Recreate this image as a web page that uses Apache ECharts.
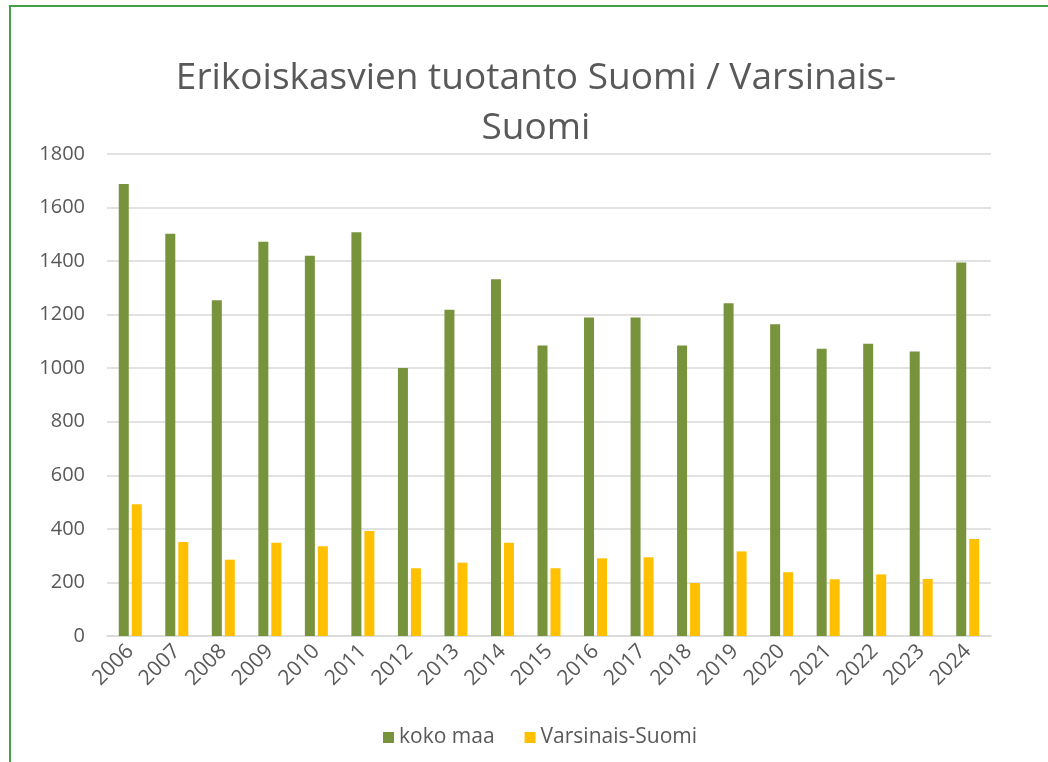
<!DOCTYPE html>
<html>
<head>
<meta charset="utf-8">
<script src="https://cdn.jsdelivr.net/npm/echarts@6/dist/echarts.min.js"></script>
<style>
  html, body { margin: 0; padding: 0; background: #fff; }
  #frame {
    position: absolute; left: 9px; top: 5px; right: 0; bottom: 0;
    border-left: 2px solid #43a047; border-top: 2px solid #43a047;
  }
  #chart { position: absolute; left: 0; top: 0; width: 1048px; height: 762px; }
</style>
</head>
<body>
<div id="frame"></div>
<div id="chart"></div>
<script>
// vuodet ja arvot luettu kuvasta
const years = ["2006", "2007", "2008", "2009", "2010", "2011", "2012", "2013", "2014", "2015",
  "2016", "2017", "2018", "2019", "2020", "2021", "2022", "2023", "2024"];
const kokoMaa = [1688, 1502, 1254, 1472, 1420, 1508, 1001, 1218, 1332, 1085,
  1189, 1189, 1085, 1243, 1164, 1073, 1091, 1062, 1395];
const varsinaisSuomi = [492, 351, 285, 348, 335, 392, 253, 274, 348, 253,
  290, 294, 198, 316, 238, 212, 230, 213, 362];

const font = '"Open Sans", "Noto Sans", sans-serif';
const txt = "#595959";

let myChart = echarts.init(document.getElementById("chart"));
myChart.setOption({
  animation: false,
  textStyle: { fontFamily: font },
  title: {
    text: "Erikoiskasvien tuotanto Suomi / Varsinais-\nSuomi",
    left: 531,
    textAlign: "center",
    top: 48,
    textStyle: {
      fontFamily: font,
      fontSize: 37,
      fontWeight: "normal",
      color: txt,
      lineHeight: 50,
    },
  },
  legend: {
    bottom: 9,
    left: 378,
    itemWidth: 11,
    itemHeight: 11,
    itemGap: 30,
    icon: "rect",
    textStyle: { fontFamily: font, fontSize: 21, color: txt },
    data: ["koko maa", "Varsinais-Suomi"],
  },
  grid: {
    left: 107,
    right: 57,
    top: 154,
    bottom: 126,
    containLabel: false,
    outerBoundsMode: "none",
  },
  xAxis: {
    type: "category",
    data: years,
    axisLine: { lineStyle: { color: "#d9d9d9", width: 1.5 } },
    axisTick: { show: false },
    axisLabel: {
      rotate: 45,
      margin: 12,
      fontFamily: font,
      fontSize: 21,
      color: txt,
    },
  },
  yAxis: {
    type: "value",
    min: 0,
    max: 1800,
    interval: 200,
    axisLine: { show: false },
    axisTick: { show: false },
    splitLine: { lineStyle: { color: "#d9d9d9", width: 1.5 } },
    axisLabel: {
      margin: 22,
      fontFamily: font,
      fontSize: 20,
      color: txt,
      formatter: function (v) {
        return String(v);
      },
    },
  },
  series: [
    {
      name: "koko maa",
      type: "bar",
      data: kokoMaa,
      barWidth: 10,
      barGap: "30%",
      itemStyle: { color: "#77933c" },
    },
    {
      name: "Varsinais-Suomi",
      type: "bar",
      data: varsinaisSuomi,
      barWidth: 10,
      itemStyle: { color: "#ffc000" },
    },
  ],
});
window.onresize = function () {
  myChart.resize();
};
</script>
</body>
</html>
